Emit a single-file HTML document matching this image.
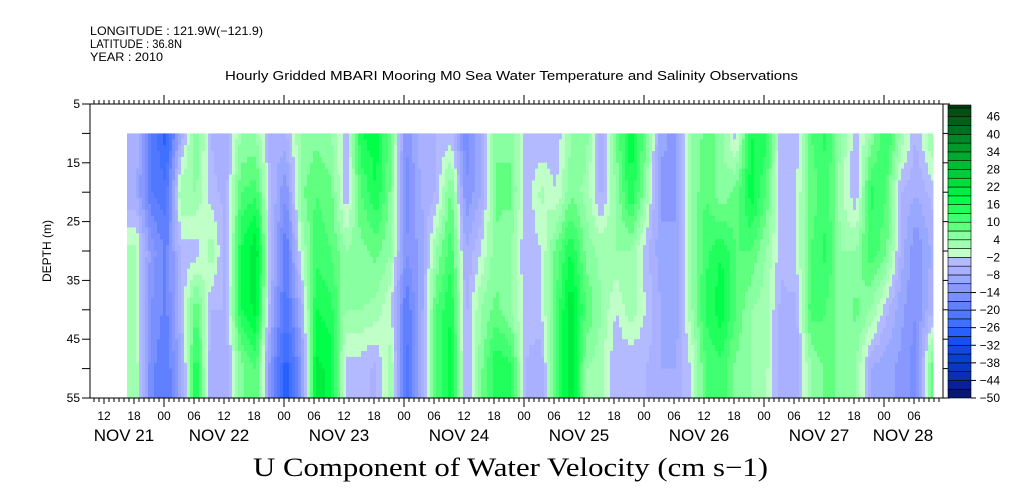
<!DOCTYPE html>
<html><head><meta charset="utf-8">
<style>
body{margin:0;background:#fff;}
svg{display:block;font-family:"Liberation Sans",sans-serif;}
</style></head>
<body>
<svg id="chart" width="1009" height="504" viewBox="0 0 1009 504">
<g font-size="12" fill="#000">
<text x="90" y="35" textLength="173" lengthAdjust="spacingAndGlyphs">LONGITUDE : 121.9W(−121.9)</text>
<text x="90" y="48" textLength="92" lengthAdjust="spacingAndGlyphs">LATITUDE : 36.8N</text>
<text x="90" y="61" textLength="73" lengthAdjust="spacingAndGlyphs">YEAR : 2010</text>
<text x="225" y="80" font-size="13" textLength="573" lengthAdjust="spacingAndGlyphs">Hourly Gridded MBARI Mooring M0 Sea Water Temperature and Salinity Observations</text>
</g>
<g id="heat"></g>
<g id="axes"></g>
<g id="cbar"></g>
<text x="253" y="476" font-family="Liberation Serif, serif" font-size="26" textLength="515" lengthAdjust="spacingAndGlyphs">U Component of Water Velocity (cm s−1)</text>
<text transform="translate(51,251) rotate(-90)" text-anchor="middle" font-size="12">DEPTH (m)</text>
</svg>
<script>
// sample depths (m)
const depths=[10,20,30,40,50];
// column start times, hours after Nov 21 00:00, 3h steps starting 16.6h
const startHour=16.6;
const stepHours=3;
const endHour=177.8;
// values (cm/s) per column at each depth
const values=[
[-5,-8,2,2,3],[-20,-20,-12,-14,-16],[-28,-22,-18,-18,-20],[-8,4,-4,-5,-10],[8,4,-4,10,16],
[-5,-4,3,-5,-8],[-8,-6,-6,-5,-8],[4,10,16,16,6],[4,12,22,20,10],[-8,-5,-5,-8,-14],
[-5,-14,-20,-22,-28],[4,6,0,-8,-14],[6,10,12,16,20],[4,8,10,14,18],[-4,-5,4,4,-4],
[16,10,6,4,-4],[18,16,8,3,-6],[8,6,4,-2,4],[-14,-16,-14,-20,-22],[-6,-8,-10,-10,-8],
[-5,-5,4,10,10],[-4,8,12,16,18],[-16,-14,-8,-6,-6],[-8,-8,-2,4,6],[6,8,6,8,16],
[6,8,4,4,14],[-4,-5,-5,-4,-5],[-5,2,-2,-2,-8],[-5,-2,8,10,10],[4,6,16,22,22],
[6,3,6,10,4],[-8,-6,3,4,2],[8,4,4,-2,-5],[18,16,4,3,-5],[8,4,-4,-2,-5],
[-10,-12,-10,-8,-8],[-12,-12,-10,-10,-8],[4,4,4,3,-2],[8,10,12,14,10],[6,4,16,18,12],
[-4,8,10,10,6],[16,18,10,4,4],[14,10,4,2,2],[-4,-4,-4,-6,-8],[-5,-2,-2,-6,-8],
[10,8,10,12,4],[14,12,14,10,8],[4,2,4,4,6],[-4,-5,4,8,4],[4,14,12,4,-8],
[14,10,8,-4,-10],[4,-5,-6,-10,-12],[-5,-8,-14,-14,-16],[4,-4,-8,-6,8]
];
const levelColors=["#081870","#082098","#0830b0","#0838c0","#0840d0","#1048e0","#1850f0","#2860ff","#4070ff","#5078ff","#6080ff","#7890ff","#8898ff","#98a8ff","#a8b0ff","#b4baff","#c0ffc8","#a0ffb0","#88ffa0","#60ff80","#40ff70","#20ff5c","#00ff48","#00ee40","#00dd3c","#00cc38","#00bb34","#00aa30","#009a2c","#008828","#007020","#006018","#005014","#004010"];
const cbarLabels=[46,40,34,28,22,16,10,4,-2,-8,-14,-20,-26,-32,-38,-44,-50];
const hourLabels=["12","18","00","06","12","18","00","06","12","18","00","06","12","18","00","06","12","18","00","06","12","18","00","06","12","18","00","06","12","18","00","06"];
const dayLabels=["NOV 21","NOV 22","NOV 23","NOV 24","NOV 25","NOV 26","NOV 27","NOV 28"];
const depthLabels=[5,15,25,35,45,55];

const NS="http://www.w3.org/2000/svg";
const X0=90,X1=943,Y0=104,Y1=398;
const xOrigin=44; // x of Nov 21 00:00
const xs=h=>xOrigin+h*5;
const ys=d=>Y0+(d-5)*(Y1-Y0)/50;
function colorOf(v){let i=Math.floor((v+50)/3);i=Math.max(0,Math.min(levelColors.length-1,i));return levelColors[i];}
function mk(tag,attrs,parent){const e=document.createElementNS(NS,tag);for(const k in attrs)e.setAttribute(k,attrs[k]);parent.appendChild(e);return e;}
function sampleDepth(col,d){
  if(d<=depths[0])return col[0];
  for(let k=0;k<depths.length-1;k++){if(d<=depths[k+1]){const t=(d-depths[k])/(depths[k+1]-depths[k]);return col[k]+t*(col[k+1]-col[k]);}}
  return col[col.length-1];
}
const heat=document.getElementById('heat');
const xa=xs(startHour), xb=xs(endHour);
for(let x=xa;x<xb;x+=3){
  const h=(x-xOrigin)/5;
  const f=(h-startHour)/stepHours-0.5;
  let i=Math.floor(f),t=f-i;
  const i0=Math.max(0,Math.min(values.length-1,i)),i1=Math.max(0,Math.min(values.length-1,i+1));
  for(let d=10;d<55;d+=1){
    const v=(1-t)*sampleDepth(values[i0],d+0.5)+t*sampleDepth(values[i1],d+0.5);
    const r=mk('rect',{x:x.toFixed(1),y:ys(d).toFixed(2),width:Math.min(3,xb-x)+0.4,height:(ys(d+1)-ys(d)+0.4).toFixed(2),fill:colorOf(v)},heat);
    
    
  }
}
const ax=document.getElementById('axes');
const frame=mk('rect',{x:X0,y:Y0,width:X1-X0,height:Y1-Y0,fill:'none',stroke:'#000','stroke-width':1},ax);


for(let h=0;h<=200;h++){
  const x=xs(h);if(x<X0||x>X1)continue;
  const major=h%24===0, six=h%6===0;
  mk('line',{x1:x,y1:Y0,x2:x,y2:Y0-(major?9:4),stroke:'#000'},ax);
  mk('line',{x1:x,y1:Y1,x2:x,y2:Y1+(major?9:(six?6:4)),stroke:'#000'},ax);
}
hourLabels.forEach((lab,k)=>{
  const h=12+6*k;const x=xs(h);if(x>X1)return;
  const t=mk('text',{x:x,y:420,'text-anchor':'middle','font-size':12},ax);t.textContent=lab;
  
  
});
dayLabels.forEach((lab,k)=>{
  let x=xs(12+24*k)-5; if(k===0)x=124; if(k===7)x=Math.min(x,903);
  const t=mk('text',{x:x,y:441,'text-anchor':'middle','font-size':17},ax);t.textContent=lab;
  
  
});
for(let d=5;d<=55;d+=5){
  const y=ys(d);
  mk('line',{x1:X0,y1:y,x2:X0-8,y2:y,stroke:'#000'},ax);
  mk('line',{x1:X1,y1:y,x2:X1+7,y2:y,stroke:'#000'},ax);
}
depthLabels.forEach(d=>{
  const t=mk('text',{x:80,y:ys(d)+4,'text-anchor':'end','font-size':12},ax);t.textContent=d;
  
  
});
const cb=document.getElementById('cbar');
const cy=v=>398-(v+50)*2.93;
for(let k=0;k<levelColors.length;k++){
  const lo=-50+3*k,hi=Math.min(50,lo+3);if(lo>=50)break;
  const r=mk('rect',{x:948,y:cy(hi),width:23,height:cy(lo)-cy(hi),fill:levelColors[k],stroke:'#000','stroke-width':0.6},cb);
  
  
}
cbarLabels.forEach(v=>{
  const y=cy(v);
  if(v<=-14)mk('line',{x1:971,y1:y,x2:976,y2:y,stroke:'#000'},cb);
  const t=mk('text',{x:1000,y:y+4,'text-anchor':'end','font-size':12},cb);t.textContent=v<0?'−'+(-v):v;
  
  
});
</script>
</body></html>
